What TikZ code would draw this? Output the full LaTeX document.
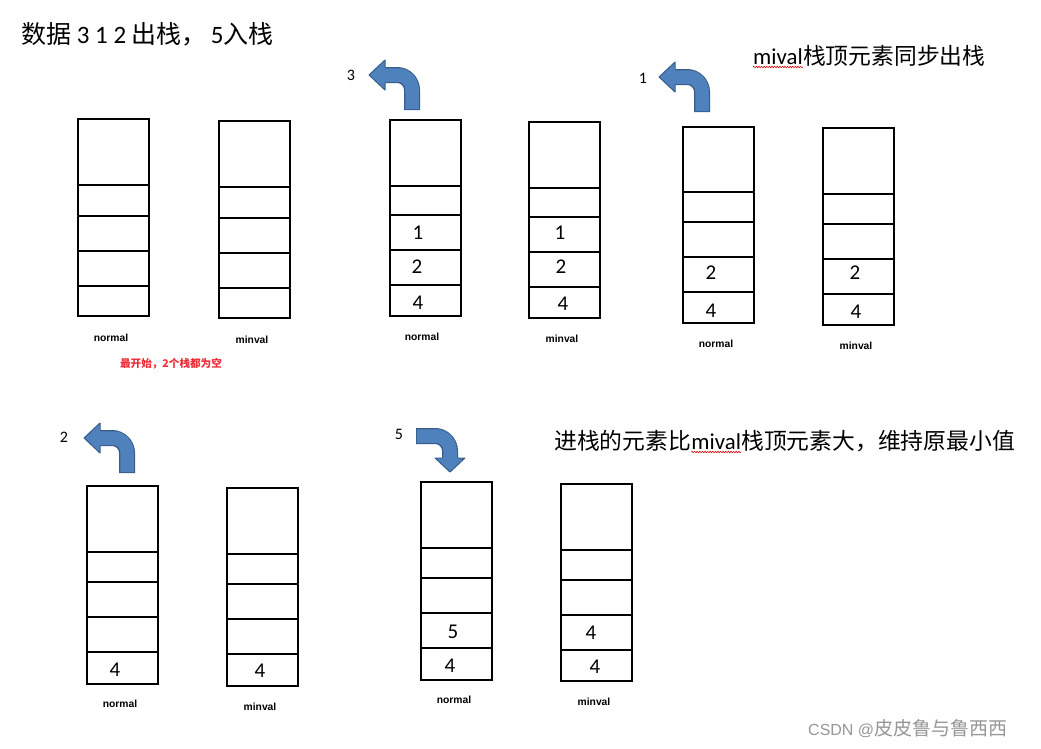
\documentclass[tikz,border=0pt]{standalone}
\usepackage{fontspec}
\setmainfont{Carlito}
\newfontfamily\cjk{Noto Sans CJK SC}
\newfontfamily\lab{Liberation Sans}
\usetikzlibrary{decorations.pathmorphing}
\definecolor{arrfill}{RGB}{79,129,189}
\definecolor{arredge}{RGB}{56,93,138}
\definecolor{redtxt}{RGB}{238,45,55}
\definecolor{wmgray}{RGB}{150,150,150}
\newcommand\stk[8]{%
  \draw[box] (#2,#3) rectangle (#2+71,#4);
  \coordinate (#1) at (#2+35.5,#3);
  \draw[box] (#2,#5) -- (#2+71,#5);
  \draw[box] (#2,#6) -- (#2+71,#6);
  \draw[box] (#2,#7) -- (#2+71,#7);
  \draw[box] (#2,#8) -- (#2+71,#8);
}
\tikzset{
  box/.style={line width=1.5pt, line cap=rect},
  num/.style={font=\fontsize{21}{21}\selectfont, inner sep=0pt},
  lbl/.style={font=\lab\bfseries\fontsize{10.3}{10.3}\selectfont, inner sep=0pt},
  big/.style={font=\fontsize{22.8}{22.8}\selectfont, inner sep=0pt},
  wavy/.style={red!85!black, line width=0.6pt, decorate, decoration={snake, amplitude=0.7pt, segment length=2.6pt}},
  leftbent/.pic={
    \draw[arredge, line width=16pt, rounded corners=15pt] (0,0) -- (0,-35) -- (-27,-35);
    \draw[arrfill, line width=13.5pt, rounded corners=14pt] (0,-0.8) -- (0,-35) -- (-28,-35);
    \fill[arrfill] (-27,-50) -- (-43,-35) -- (-27,-20) -- cycle;
    \draw[arredge, line width=1pt, line join=round] (-27,-43) -- (-27,-50) -- (-43,-35) -- (-27,-20) -- (-27,-27);
  },
  downbent/.pic={
    \draw[arredge, line width=16pt, rounded corners=15pt] (0,0) -- (34,0) -- (34,22);
    \draw[arrfill, line width=13.5pt, rounded corners=14pt] (0.8,0) -- (34,0) -- (34,23);
    \fill[arrfill] (19,22) -- (34,36) -- (49,22) -- cycle;
    \draw[arredge, line width=1pt, line join=round] (26,22) -- (19,22) -- (34,36) -- (49,22) -- (42,22);
  }
}
\begin{document}
\begin{tikzpicture}[x=1pt, y=-1pt]
\useasboundingbox[fill=white] (0,0) rectangle (1041,748);

% title
\node[anchor=west, inner sep=0pt, font=\fontsize{25}{25}\selectfont] (title) at (21,34)
  {{\cjk 数据} 3 1 2 {\cjk 出栈，}\,5{\cjk 入栈}};

% top-right note
\node[big, anchor=base west] (n1a) at (753,64) {mival};
\node[big, anchor=base west] (n1b) at (n1a.base east) {\cjk 栈顶元素同步出栈};
\draw[wavy] ([yshift=-3pt]n1a.base west) -- ([yshift=-3pt]n1a.base east);

% second note
\node[big, anchor=base west] (n2a) at (554,449) {\cjk 进栈的元素比};
\node[big, anchor=base west] (n2b) at (n2a.base east) {mival};
\node[big, anchor=base west] (n2c) at (n2b.base east) {\cjk 栈顶元素大，维持原最小值};
\draw[wavy] ([yshift=-3pt]n2b.base west) -- ([yshift=-3pt]n2b.base east);

% arrows and their numbers
\pic at (412,110) {leftbent};
\node[num, font=\fontsize{16}{16}\selectfont] (k3) at (351,75) {3};
\pic at (702,112) {leftbent};
\node[num, font=\fontsize{16}{16}\selectfont] (k1) at (643,78) {1};
\pic at (127,473) {leftbent};
\node[num, font=\fontsize{16}{16}\selectfont] (k2) at (64,437) {2};
\pic at (416,436) {downbent};
\node[num, font=\fontsize{16}{16}\selectfont] (k5) at (399,434) {5};

% stacks
\stk{An}{78}{119}{316}{185}{216}{251}{286}
\stk{Am}{219}{121}{318}{187}{218}{253}{288}
\stk{Bn}{390}{120}{316}{186}{215}{250}{285}
\stk{Bm}{529}{122}{318}{188}{217}{252}{287}
\stk{Cn}{683}{127}{323}{192}{222}{257}{292}
\stk{Cm}{823}{128}{325}{194}{224}{259}{294}
\stk{Dn}{87}{486}{684}{552}{582}{617}{652}
\stk{Dm}{227}{488}{686}{554}{584}{619}{654}
\stk{En}{421}{482}{680}{548}{578}{613}{648}
\stk{Em}{561}{484}{681}{550}{580}{615}{650}

% values
\node[num] (b1) at (418,233) {1};
\node[num] (b2) at (417,267) {2};
\node[num] (b3) at (418,303) {4};
\node[num] (b4) at (560,233) {1};
\node[num] (b5) at (561,267) {2};
\node[num] (b6) at (563,304) {4};
\node[num] (c1) at (711,273) {2};
\node[num] (c2) at (711,311) {4};
\node[num] (c3) at (855,273) {2};
\node[num] (c4) at (856,312) {4};
\node[num] (d1) at (115,670) {4};
\node[num] (d2) at (260,671) {4};
\node[num] (e1) at (453,632) {5};
\node[num] (e2) at (450,666) {4};
\node[num] (e3) at (591,633) {4};
\node[num] (e4) at (595,667) {4};

% labels
\node[lbl] (la1) at (111,338) {normal};
\node[lbl] (la2) at (252,340) {minval};
\node[lbl] (lb1) at (422,337) {normal};
\node[lbl] (lb2) at (562,339) {minval};
\node[lbl] (lc1) at (716,344) {normal};
\node[lbl] (lc2) at (856,346) {minval};
\node[lbl] (ld1) at (120,704) {normal};
\node[lbl] (ld2) at (260,707) {minval};
\node[lbl] (le1) at (454,700) {normal};
\node[lbl] (le2) at (594,702) {minval};

\node[inner sep=0pt, text=redtxt, font=\cjk\bfseries\fontsize{10.6}{10.6}\selectfont] (red) at (171,364) {最开始，2个栈都为空};

% watermark
\node[anchor=west, inner sep=0pt, text=wmgray, font=\cjk\fontsize{19}{19}\selectfont] (wm) at (808,729) {{\lab\fontsize{16}{16}\selectfont CSDN @}皮皮鲁与鲁西西};
\end{tikzpicture}
\end{document}
